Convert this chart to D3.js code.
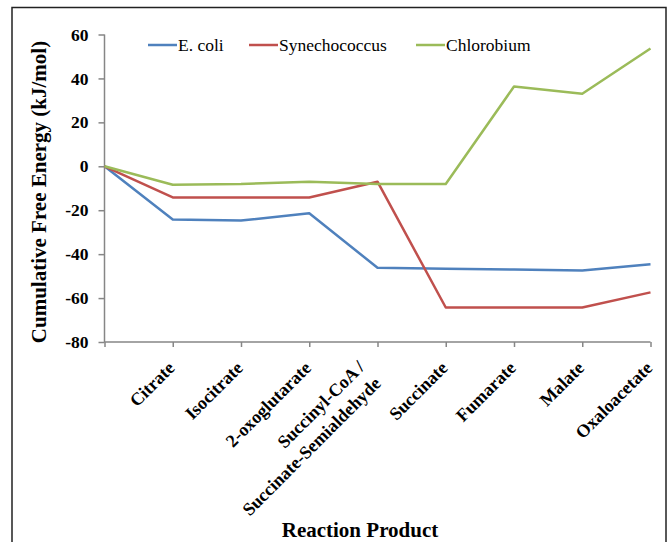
<!DOCTYPE html>
<html>
<head>
<meta charset="utf-8">
<script src="https://cdn.jsdelivr.net/npm/d3@7"></script>
<style>
  html, body { margin: 0; padding: 0; background: #fff; }
  svg { display: block; }
  text { font-family: "Liberation Serif", "Times New Roman", serif; }
</style>
</head>
<body>
<svg id="chart" width="672" height="542"></svg>
<script>
// Reaction products along the cycle (first point is the starting reference at 0)
const categories = ["", "Citrate", "Isocitrate", "2-oxoglutarate",
  "Succinyl-CoA /\nSuccinate-Semialdehyde", "Succinate", "Fumarate", "Malate", "Oxaloacetate"];

// Cumulative free energy, kJ/mol
const ecoli         = [0, -24.2, -24.7, -21.4, -46.2, -46.6, -47.0, -47.5, -44.6];
const synechococcus = [0, -14.2, -14.2, -14.2,  -7.0, -64.3, -64.3, -64.3, -57.4];
const chlorobium    = [0,  -8.4,  -8.1,  -7.0,  -8.1,  -8.1,  36.3,  33.0,  53.6];

const yTicks = [60, 40, 20, 0, -20, -40, -60, -80];
const yTickLabels = ["60", "40", "20", "0", "-20", "-40", "-60", "-80"];

const series = [
  { name: "E. coli",       values: ecoli,         color: "#4F81BD" },
  { name: "Synechococcus", values: synechococcus, color: "#C0504D" },
  { name: "Chlorobium",    values: chlorobium,    color: "#9BBB59" }
];

const svg = d3.select("#chart");
const axisColor = "#868686";

// outer frame
svg.append("rect")
  .attr("x", 12).attr("y", 7.5)
  .attr("width", 654).attr("height", 560)
  .attr("fill", "none").attr("stroke", "#222").attr("stroke-width", 1.5);

const plotLeft = 104.5, plotRight = 650.5, plotTop = 34.5, plotBottom = 342;

const x = d3.scalePoint()
  .domain(d3.range(categories.length))
  .range([plotLeft, plotRight]);

const y = d3.scaleLinear()
  .domain([-80, 60])
  .range([plotBottom, plotTop]);

// y axis
const yAxis = svg.append("g")
  .attr("transform", `translate(${plotLeft},0)`)
  .call(d3.axisLeft(y).tickValues(yTicks).tickSize(6).tickPadding(10)
    .tickFormat((d, i) => yTickLabels[i]));
yAxis.select(".domain").attr("stroke", axisColor).attr("stroke-width", 1.5)
  .attr("d", `M0,${plotTop}V${plotBottom}`);
yAxis.selectAll(".tick line").attr("stroke", axisColor).attr("stroke-width", 1.5);
yAxis.selectAll(".tick text")
  .attr("fill", "#000")
  .style("font-size", "17.5px").style("font-weight", "bold")
  .style("font-family", "'Liberation Serif', serif");

// x axis
const xAxis = svg.append("g")
  .attr("transform", `translate(0,${plotBottom})`)
  .call(d3.axisBottom(x).tickSize(5).tickFormat(""));
xAxis.select(".domain").attr("stroke", axisColor).attr("stroke-width", 1.5)
  .attr("d", `M${plotLeft},0H${plotRight}`);
xAxis.selectAll(".tick line").attr("stroke", axisColor).attr("stroke-width", 1.5);

// rotated category labels, right end of each label sits just below its tick
const labelG = svg.append("g");
categories.forEach((c, i) => {
  if (!c) return;
  const lines = c.split("\n");
  const g = labelG.append("g")
    .attr("transform", `translate(${x(i) + 3},${plotBottom + 27}) rotate(-45)`);
  const t = g.append("text")
    .attr("text-anchor", "end")
    .style("font-size", "18px").style("font-weight", "bold");
  if (lines.length === 1) {
    t.text(lines[0]);
  } else {
    lines.forEach((ln, k) => {
      t.append("tspan")
        .attr("x", -10)
        .attr("y", k === 0 ? -11 : 12)
        .text(ln);
    });
  }
});

// lines
const line = d3.line()
  .x((d, i) => x(i))
  .y(d => y(d));

svg.append("g").selectAll("path")
  .data(series)
  .join("path")
  .attr("d", d => line(d.values))
  .attr("fill", "none")
  .attr("stroke", d => d.color)
  .attr("stroke-width", 2.5)
  .attr("stroke-linejoin", "round");

// legend
const legendX = [148, 249, 416];
const legend = svg.append("g");
series.forEach((s, i) => {
  const g = legend.append("g").attr("transform", `translate(${legendX[i]},45)`);
  g.append("line").attr("x1", 0).attr("x2", 29).attr("y1", 0).attr("y2", 0)
    .attr("stroke", s.color).attr("stroke-width", 2.5);
  g.append("text").attr("x", 30).attr("y", 0).attr("dy", "0.35em")
    .style("font-size", "17.5px").text(s.name);
});

// axis titles
svg.append("text")
  .attr("transform", `translate(46,192) rotate(-90)`)
  .attr("text-anchor", "middle")
  .style("font-size", "21px").style("font-weight", "bold")
  .text("Cumulative Free Energy (kJ/mol)");

svg.append("text")
  .attr("x", 360).attr("y", 537)
  .attr("text-anchor", "middle")
  .style("font-size", "21px").style("font-weight", "bold")
  .text("Reaction Product");
</script>
</body>
</html>
